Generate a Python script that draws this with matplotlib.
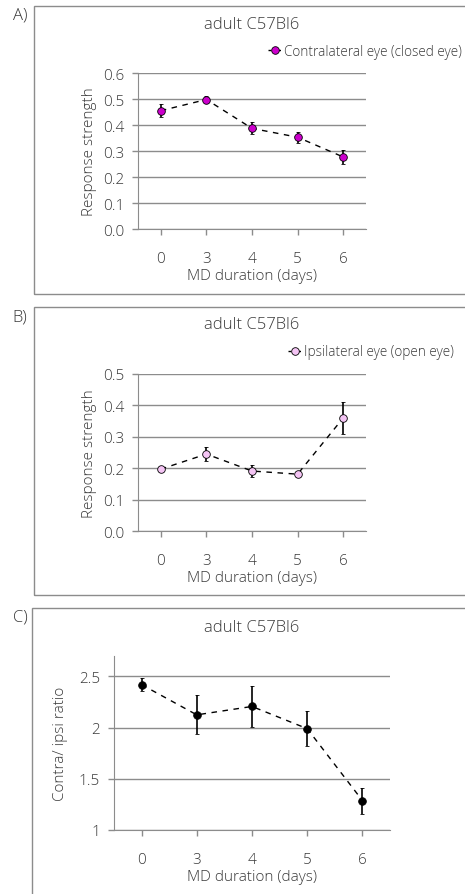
import matplotlib
matplotlib.use("Agg")
import matplotlib.pyplot as plt
from matplotlib.lines import Line2D
from matplotlib.patches import Rectangle

plt.rcParams["font.family"] = ["Open Sans", "DejaVu Sans"]
plt.rcParams["font.weight"] = "light"
plt.rcParams["axes.labelweight"] = "light"

# ---- data -----------------------------------------------------------------
days = ["0", "3", "4", "5", "6"]

contra = [0.455, 0.498, 0.387, 0.353, 0.277]
contra_err = [0.025, 0.013, 0.023, 0.021, 0.027]

ipsi = [0.197, 0.245, 0.191, 0.181, 0.360]
ipsi_err = [0.010, 0.023, 0.019, 0.008, 0.050]

ratio = [2.42, 2.125, 2.207, 1.99, 1.288]
ratio_err = [0.065, 0.19, 0.20, 0.17, 0.127]

W, H = 465, 895
TXT = "#3a3a3a"
GRID = "#8c8c8c"

fig = plt.figure(figsize=(W / 100, H / 100), dpi=100)


def fx(px):
    return px / W


def fy(py):
    return 1 - py / H


def frame(x0, y0, x1, y1, label):
    fig.add_artist(Rectangle((fx(x0), fy(y1)), fx(x1) - fx(x0), fy(y0) - fy(y1),
                             transform=fig.transFigure, fill=False,
                             edgecolor=GRID, lw=1.0))
    fig.text(fx(20), fy(y0 + 9), label, ha="center", va="center",
             fontsize=12, color=TXT)


def panel(box, vals, errs, ylim, yticks, yfmt, ylabel, color, title_y,
          ylab_pad, legend=None, leg_xy=None):
    x0, y0, x1, y1 = box
    ax = fig.add_axes([fx(x0), fy(y1), fx(x1) - fx(x0), fy(y0) - fy(y1)])
    xs = range(len(days))
    ax.errorbar(xs, vals, yerr=errs, fmt="o", color="black", ecolor="black",
                elinewidth=1.2, capsize=1.5, capthick=1.0, ms=5.5,
                mfc=color, mec="black", mew=0.6, zorder=3)
    ax.plot(xs, vals, ls=(0, (4, 4)), color="black", lw=1.0, zorder=2)
    ax.set_xlim(-0.5, len(days) - 0.5)
    ax.set_ylim(*ylim)
    ax.set_xticks(list(xs))
    ax.set_xticklabels(days)
    ax.set_yticks(yticks)
    ax.set_yticklabels([yfmt(v) for v in yticks])
    ax.grid(axis="y", color=GRID, lw=1.0)
    ax.set_axisbelow(True)
    for s in ("top", "right"):
        ax.spines[s].set_visible(False)
    for s in ("left", "bottom"):
        ax.spines[s].set_color(GRID)
    ax.tick_params(axis="both", colors=GRID, labelcolor=TXT, labelsize=11,
                   length=4, width=1.0)
    ax.tick_params(axis="x", pad=12)
    ax.tick_params(axis="y", pad=6)
    ax.set_xlabel("MD duration (days)", fontsize=11, color=TXT, labelpad=1)
    ax.set_ylabel(ylabel, fontsize=11, color=TXT, labelpad=ylab_pad)
    fig.text(fx(252), fy(title_y), "adult C57Bl6", ha="center", va="center",
             fontsize=12, color=TXT)
    if legend:
        handle = Line2D([], [], ls=(0, (2, 1.5)), color="black", lw=1.0,
                        marker="o", ms=5.5, mfc=color, mec="black", mew=0.6)
        ax.legend([handle], [legend], loc="center left",
                  bbox_to_anchor=(fx(leg_xy[0]), fy(leg_xy[1])),
                  bbox_transform=fig.transFigure, frameon=False, fontsize=9.8,
                  handlelength=1.0, handletextpad=0.15, borderpad=0,
                  borderaxespad=0, labelcolor=TXT)
    return ax


frame(34, 7, 470, 295, "A)")
frame(34, 308, 470, 596, "B)")
frame(32, 609, 470, 900, "C)")

panel((138, 74, 366, 230), contra, contra_err, (0, 0.6),
      [0, 0.1, 0.2, 0.3, 0.4, 0.5, 0.6], lambda v: f"{v:.1f}",
      "Response strength", "#cc00cc", 25, 4,
      legend="Contralateral eye (closed eye)", leg_xy=(268, 52))

panel((138, 375, 366, 532), ipsi, ipsi_err, (0, 0.5),
      [0, 0.1, 0.2, 0.3, 0.4, 0.5], lambda v: f"{v:.1f}",
      "Response strength", "#f4c4f4", 325, 4,
      legend="Ipsilateral eye (open eye)", leg_xy=(288, 353))

panel((114, 657, 390, 831), ratio, ratio_err, (1, 2.7),
      [1, 1.5, 2, 2.5], lambda v: f"{v:g}",
      "Contra/ ipsi ratio", "black", 628, 8)

fig.savefig("out.png", dpi=100)
